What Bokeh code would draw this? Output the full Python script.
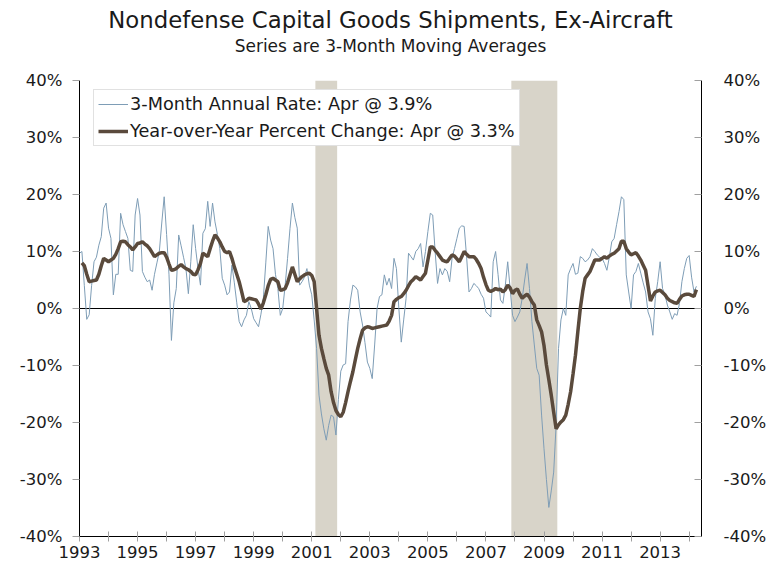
import numpy as np
from bokeh.plotting import figure
from bokeh.models import (Range1d, LinearAxis, FixedTicker, Title, Legend,
                          LegendItem)
from bokeh.embed import file_html
from bokeh.resources import INLINE

# ---------------- data (monthly, Jan 1993 - Apr 2014) ----------------
start_year = 1993
last_month_name = "Apr"

# 3-Month Annual Rate (3-month moving average), %
annual_rate_3m = [
    9.7, 10.0, 4.0, -1.9, -1.1, 4.0, 8.2, 9.0, 11.1, 12.6, 17.6, 18.5,      # 1993
    14.1, 12.3, 2.4, 6.0, 6.0, 16.7, 14.7, 13.5, 12.3, 6.7, 6.5, 16.4,      # 1994
    19.3, 16.4, 6.5, 5.5, 4.7, 5.0, 3.2, 6.0, 8.0, 10.0, 15.0, 19.6,        # 1995
    13.0, 5.9, -5.6, 1.0, 3.5, 12.9, 11.0, 9.0, 7.0, 2.6, 8.2, 14.7,        # 1996
    10.5, 7.0, 4.1, 13.2, 14.0, 18.8, 14.4, 18.5, 15.2, 13.0, 10.5, 5.3,    # 1997
    4.1, 2.4, 2.9, 7.6, 4.5, 1.0, -2.3, -3.2, -2.0, -1.2, 1.2, 0.0,         # 1998
    -1.8, -2.5, -3.2, -1.0, 1.8, 8.0, 14.4, 12.0, 10.5, 6.0, 3.5, -1.2,     # 1999
    0.0, 4.0, 8.8, 14.0, 18.5, 16.0, 14.1, 4.1, 4.7, 5.5, 7.0, 4.1,         # 2000
    2.4, -2.0, -7.0, -15.2, -18.5, -21.1, -23.1, -20.5, -18.7, -19.0, -22.2, -16.0,  # 2001
    -11.0, -9.9, -9.7, -2.3, 1.5, 4.1, 3.8, 3.2, -0.6, -2.9, -6.0, -9.4,    # 2002
    -10.5, -12.3, -6.4, 0.0, 2.1, 2.4, 5.9, 4.1, 5.3, 3.5, 8.8, 7.0,        # 2003
    0.0, -5.9, -2.0, 1.8, 9.7, 9.1, 8.5, 10.0, 10.5, 11.4, 7.3, 10.0,       # 2004
    13.5, 16.7, 16.4, 10.0, 4.4, 7.0, 5.9, 7.0, 6.5, 4.7, 8.8, 10.5,        # 2005
    12.3, 14.1, 14.5, 14.4, 9.1, 2.9, 3.5, 4.4, 4.0, 3.5, 2.5, 1.8,         # 2006
    -0.6, -1.0, -1.5, 8.2, 10.0, 6.0, 1.5, 0.9, 4.0, 8.2, 3.5, -1.2,        # 2007
    -2.3, -1.5, -0.6, 1.8, 5.0, 7.9, 3.5, -2.3, -6.4, -10.5, -11.7, -18.7,  # 2008
    -24.6, -30.0, -34.9, -32.0, -28.7, -20.5, -7.0, -2.0, 0.0, -1.2, 5.9, 7.0,  # 2009
    7.9, 6.0, 6.2, 9.1, 8.8, 8.2, 8.5, 9.1, 10.5, 10.0, 9.4, 9.0,           # 2010
    8.8, 7.9, 6.7, 9.0, 11.7, 12.3, 14.7, 17.0, 19.6, 19.1, 5.9, 2.9,       # 2011
    0.0, 5.9, 6.5, 7.9, 6.2, 4.5, 2.9, -0.6, -1.8, -4.7, 1.8, 4.7,          # 2012
    8.2, 3.5, 2.4, 0.6, -0.6, -1.9, -0.9, -1.2, 0.9, 4.7, 7.0, 8.8,         # 2013
    9.3, 5.5, 2.9, 3.9,                                                     # 2014
]

# Year-over-Year Percent Change (3-month moving average), %
yoy_change = [
    np.nan, 8.0, 7.5, 6.0, 4.7, 4.8, 4.9, 5.0, 6.0, 7.5, 8.8, 8.5,          # 1993
    8.2, 8.5, 8.8, 9.5, 10.5, 11.7, 11.8, 11.7, 11.2, 10.8, 10.3, 10.8,     # 1994
    11.4, 11.5, 11.7, 11.3, 11.0, 10.5, 9.8, 9.1, 9.4, 9.7, 9.8, 9.8,       # 1995
    9.0, 7.8, 6.7, 6.8, 7.0, 7.4, 7.7, 7.3, 7.0, 6.8, 6.5, 6.0,             # 1996
    5.9, 6.8, 7.9, 9.7, 9.4, 9.1, 10.5, 11.8, 12.9, 12.4, 11.7, 10.8,       # 1997
    10.0, 9.8, 10.0, 8.8, 7.3, 6.0, 4.7, 3.0, 1.2, 1.4, 1.8, 1.7,           # 1998
    1.6, 1.5, 0.8, -0.1, 1.0, 2.4, 4.0, 5.1, 5.3, 5.0, 4.7, 3.2,            # 1999
    3.3, 3.5, 4.5, 5.9, 7.3, 6.0, 4.7, 5.2, 5.6, 5.9, 6.1, 6.2,             # 2000
    5.8, 4.7, 0.0, -4.7, -7.0, -8.8, -10.5, -11.7, -14.6, -16.5, -17.9, -18.6,  # 2001
    -19.0, -18.2, -16.5, -14.6, -12.8, -11.1, -9.0, -7.0, -5.3, -3.8, -3.4, -3.2,  # 2002
    -3.3, -3.5, -3.4, -3.3, -3.2, -3.1, -3.0, -2.9, -2.2, -1.2, 1.2, 1.6,   # 2003
    1.9, 2.1, 2.6, 3.2, 4.0, 4.7, 5.1, 5.6, 5.3, 5.0, 5.6, 6.2,             # 2004
    8.5, 10.8, 10.8, 10.2, 9.7, 9.1, 8.5, 8.3, 8.2, 8.8, 9.4, 9.2,          # 2005
    8.7, 8.2, 9.1, 10.0, 9.5, 9.1, 9.1, 9.1, 8.6, 7.9, 7.0, 5.5,            # 2006
    4.2, 3.2, 3.0, 3.2, 3.5, 3.3, 3.4, 2.9, 3.3, 4.1, 3.6, 2.6,             # 2007
    3.2, 3.4, 2.5, 1.8, 2.2, 2.5, 2.0, 1.2, 0.6, -2.0, -3.0, -4.1,          # 2008
    -6.5, -9.9, -12.5, -15.2, -18.2, -21.1, -20.4, -19.9, -19.5, -18.7, -16.8, -14.6,  # 2009
    -11.5, -8.2, -4.0, 0.0, 3.0, 5.3, 5.9, 6.5, 7.5, 8.5, 8.5, 8.5,         # 2010
    8.8, 9.1, 8.8, 9.2, 9.5, 9.7, 10.1, 10.5, 11.8, 11.8, 10.5, 9.9,        # 2011
    9.4, 9.6, 9.8, 9.2, 8.5, 7.6, 6.7, 4.0, 1.3, 2.2, 2.9, 3.1,             # 2012
    3.2, 2.8, 2.4, 1.8, 1.4, 1.2, 1.0, 0.9, 1.6, 2.2, 2.4, 2.5,             # 2013
    2.5, 2.3, 2.1, 3.3,                                                     # 2014
]

# NBER recessions (first month, last month)
recession_starts = ["2001-03", "2007-12"]
recession_ends = ["2001-11", "2009-06"]

y_ticks = [-40, -30, -20, -10, 0, 10, 20, 30, 40]
x_ticks = list(range(1993, 2015))
x_labeled_years = [1993, 1995, 1997, 1999, 2001, 2003, 2005, 2007, 2009, 2011, 2013]

title_text = "Nondefense Capital Goods Shipments, Ex-Aircraft"
subtitle_text = "Series are 3-Month Moving Averages"

# ---------------- derived ----------------
n = len(annual_rate_3m)
t = start_year + np.arange(n) / 12.0
thin = np.array(annual_rate_3m, dtype=float)
thick = np.array(yoy_change, dtype=float)


def ym(s):
    y, m = s.split("-")
    return int(y) + (int(m) - 1) / 12.0


rec_left = [ym(s) - 1 / 24 for s in recession_starts]
rec_right = [ym(s) + 1 / 24 for s in recession_ends]

y_min, y_max = y_ticks[0], y_ticks[-1]

FONT = "DejaVu Sans"
TXT = "#1a1a1a"

p = figure(frame_width=622, frame_height=456,
           x_range=Range1d(1993, 2014.425), y_range=Range1d(y_min, y_max),
           output_backend="svg", toolbar_location=None,
           min_border_left=79, min_border_right=62, min_border_top=80,
           min_border_bottom=28, outline_line_color=None,
           background_fill_color="white", border_fill_color="white")
p.xgrid.visible = False
p.ygrid.visible = False

# recession shading
p.quad(left=rec_left, right=rec_right, bottom=y_min, top=y_max,
       fill_color="#d8d4c9", line_color=None)

# zero line
p.line(x=[t[0], t[-1]], y=[0, 0], line_color="black", line_width=1)

r_thin = p.line(t, thin, line_color="#7e9db6", line_width=1)
r_thick = p.line(t, thick, line_color="#5a4a3c", line_width=3.5)

# axes
pct = {v: f"{v}%" for v in y_ticks}
ya = p.yaxis[0]
ya.ticker = FixedTicker(ticks=y_ticks)
ya.major_label_overrides = pct
ya.axis_line_color = "black"
ya.major_tick_line_color = "#a0a0a0"
ya.major_tick_out = 7
ya.major_tick_in = 0
ya.minor_tick_line_color = None
ya.major_label_text_font = FONT
ya.major_label_text_font_size = "16.5px"
ya.major_label_text_color = TXT
ya.major_label_standoff = 10

ra = LinearAxis(ticker=FixedTicker(ticks=y_ticks), major_label_overrides=pct)
ra.axis_line_color = "black"
ra.major_tick_line_color = "#a0a0a0"
ra.major_tick_out = 0
ra.major_tick_in = 7
ra.minor_tick_line_color = None
ra.major_label_text_font = FONT
ra.major_label_text_font_size = "16.5px"
ra.major_label_text_color = TXT
ra.major_label_standoff = 22
p.add_layout(ra, "right")

xa = p.xaxis[0]
xa.ticker = FixedTicker(ticks=x_ticks)
xa.major_label_overrides = {y: (str(y) if y in x_labeled_years else "") for y in x_ticks}
xa.axis_line_color = "black"
xa.major_tick_line_color = "#a0a0a0"
xa.major_tick_out = 5
xa.major_tick_in = 5
xa.minor_tick_line_color = None
xa.major_label_text_font = FONT
xa.major_label_text_font_size = "16.5px"
xa.major_label_text_color = TXT
xa.major_label_standoff = 4

# legend
legend = Legend(items=[
    LegendItem(label=f"3-Month Annual Rate: {last_month_name} @ {thin[-1]:.1f}%", renderers=[r_thin]),
    LegendItem(label=f"Year-over-Year Percent Change: {last_month_name} @ {thick[-1]:.1f}%", renderers=[r_thick]),
], location=(14, 390))
legend.border_line_color = "#c4c4c4"
legend.border_line_width = 1
legend.background_fill_color = "white"
legend.background_fill_alpha = 1.0
legend.label_text_font = FONT
legend.label_text_font_size = "17.7px"
legend.label_text_color = TXT
legend.glyph_width = 30
legend.glyph_height = 20
legend.spacing = 7
legend.padding = 4
legend.label_standoff = 2
legend.margin = 0
p.add_layout(legend)

# titles: spacer (closest to plot), subtitle, then main title on top
p.add_layout(Title(text=" ", align="center", text_font=FONT,
                   text_font_size="1px", standoff=22), "above")
p.add_layout(Title(text=subtitle_text, align="center", text_font=FONT,
                   text_font_size="17px", text_font_style="normal",
                   text_color=TXT, standoff=0), "above")
p.add_layout(Title(text=title_text, align="center", text_font=FONT,
                   text_font_size="22.8px", text_font_style="normal",
                   text_color=TXT, standoff=2), "above")

open("out.html", "w").write(file_html(p, INLINE))
